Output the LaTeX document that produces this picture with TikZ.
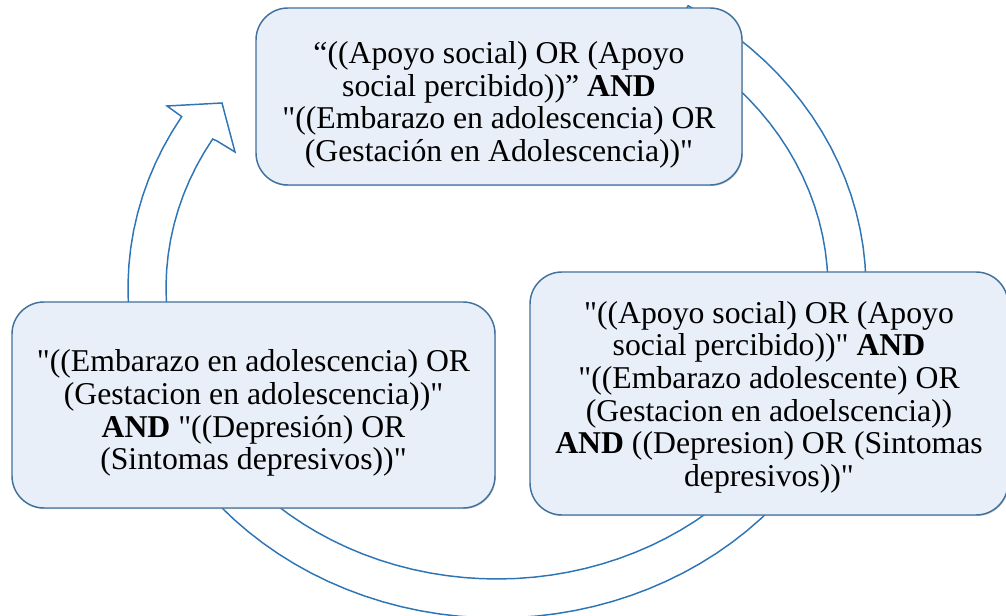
\documentclass[tikz,border=0pt]{standalone}
\usepackage{fontspec}
\setmainfont{LiberationSerif}[Extension=.ttf, UprightFont=*-Regular, BoldFont=*-Bold, Ligatures=TeXOff]
\usepackage{tikz}
\usetikzlibrary{shadows}
\definecolor{ringblue}{HTML}{2E75B6}
\definecolor{boxedge}{HTML}{41719C}
\definecolor{boxfill}{HTML}{E9EFF8}
\newcommand{\padtop}{\rule{0pt}{29pt}}

\begin{document}
\begin{tikzpicture}[
    x=0.75pt, y=-0.75pt,
    query/.style={rectangle, rounded corners=24pt, draw=boxedge, line width=1.1pt,
        fill=boxfill, align=center, inner sep=0pt,
        font=\fontsize{23.8}{24.5}\selectfont,
        drop shadow={shadow xshift=0.6pt, shadow yshift=-0.9pt, opacity=0.35}},
    band/.style={draw=ringblue, line width=1.1pt, fill=white, line join=miter}
]
    \useasboundingbox (0,0) rectangle (1006,616);

    % cycle arrow behind the boxes
    \draw[band] plot[domain=-58.8:211.3, samples=90] ({497+369*cos(\x)},{288+330*sin(\x)})
        -- (167,106) -- (222,103) -- (235,152) -- (217,141)
        -- plot[domain=210.8:-58.8, samples=90] ({497+331*cos(\x)},{288+291*sin(\x)}) -- cycle;

    \node[query, minimum width=364.5pt, minimum height=132.75pt] (apoyo) at (499,96.5)
        {\padtop“((Apoyo social) OR (Apoyo\\social percibido))” \textbf{AND}\\"((Embarazo en adolescencia) OR\\(Gestación en Adolescencia))"};
    \node[query, minimum width=358.5pt, minimum height=182.25pt] (todos) at (769,393.5)
        {\rule{0pt}{22pt}"((Apoyo social) OR (Apoyo\\social percibido))" \textbf{AND}\\"((Embarazo adolescente) OR\\(Gestacion en adoelscencia))\\\textbf{AND} ((Depresion) OR (Sintomas\\depresivos))"};
    \node[query, minimum width=362.25pt, minimum height=154.5pt] (depre) at (253.5,405)
        {\padtop"((Embarazo en adolescencia) OR\\(Gestacion en adolescencia))"\\\textbf{AND} "((Depresión) OR\\(Sintomas depresivos))"};
\end{tikzpicture}
\end{document}
